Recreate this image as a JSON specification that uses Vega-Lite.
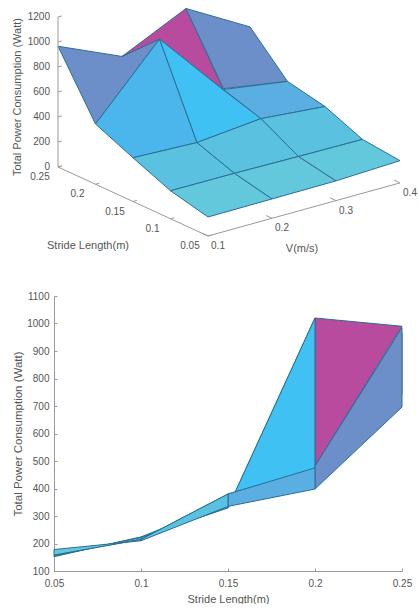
{
"$schema":"https://vega.github.io/schema/vega-lite/v6.json",
"padding":{"left":11,"top":0,"right":0,"bottom":0},
"autosize":{"type":"pad"},
"spacing":36,
"config":{"view":{"stroke":null},"font":"Liberation Sans","text":{"color":"#555555","font":"Liberation Sans"}},
"datasets":{
"cells":[
{"cell":"a","shade":"slate","k":0,"stride":0.2,"v":0.1,"power":482},{"cell":"a","shade":"slate","k":1,"stride":0.25,"v":0.1,"power":966},{"cell":"a","shade":"slate","k":2,"stride":0.25,"v":0.2,"power":743},{"cell":"a","shade":"slate","k":3,"stride":0.2,"v":0.2,"power":1020},{"cell":"a","shade":"slate","k":4,"stride":0.2,"v":0.1,"power":482},
{"cell":"b","shade":"azure","k":0,"stride":0.15,"v":0.1,"power":350},{"cell":"b","shade":"azure","k":1,"stride":0.2,"v":0.1,"power":482},{"cell":"b","shade":"azure","k":2,"stride":0.2,"v":0.2,"power":1020},{"cell":"b","shade":"azure","k":3,"stride":0.15,"v":0.2,"power":330},{"cell":"b","shade":"azure","k":4,"stride":0.15,"v":0.1,"power":350},
{"cell":"c","shade":"aqua","k":0,"stride":0.1,"v":0.1,"power":224},{"cell":"c","shade":"aqua","k":1,"stride":0.15,"v":0.1,"power":350},{"cell":"c","shade":"aqua","k":2,"stride":0.15,"v":0.2,"power":330},{"cell":"c","shade":"aqua","k":3,"stride":0.1,"v":0.2,"power":222},{"cell":"c","shade":"aqua","k":4,"stride":0.1,"v":0.1,"power":224},
{"cell":"d","shade":"teal","k":0,"stride":0.05,"v":0.1,"power":152},{"cell":"d","shade":"teal","k":1,"stride":0.1,"v":0.1,"power":224},{"cell":"d","shade":"teal","k":2,"stride":0.1,"v":0.2,"power":222},{"cell":"d","shade":"teal","k":3,"stride":0.05,"v":0.2,"power":155},{"cell":"d","shade":"teal","k":4,"stride":0.05,"v":0.1,"power":152},
{"cell":"e","view":"3d","shade":"magenta","k":0,"stride":0.2,"v":0.2,"power":1020},{"cell":"e","view":"3d","shade":"magenta","k":1,"stride":0.25,"v":0.2,"power":743},{"cell":"e","view":"3d","shade":"magenta","k":2,"stride":0.25,"v":0.3,"power":985},{"cell":"e","view":"3d","shade":"magenta","k":3,"stride":0.2,"v":0.3,"power":470},{"cell":"e","view":"3d","shade":"magenta","k":4,"stride":0.2,"v":0.2,"power":1020},
{"cell":"m","view":"2d","shade":"magenta","k":0,"stride":0.2,"v":0.2,"power":1020},{"cell":"m","view":"2d","shade":"magenta","k":1,"stride":0.25,"v":0.2,"power":990},{"cell":"m","view":"2d","shade":"magenta","k":2,"stride":0.25,"v":0.3,"power":990},{"cell":"m","view":"2d","shade":"magenta","k":3,"stride":0.2,"v":0.3,"power":482},{"cell":"m","view":"2d","shade":"magenta","k":4,"stride":0.2,"v":0.2,"power":1020},
{"cell":"f","shade":"sky","k":0,"stride":0.15,"v":0.2,"power":330},{"cell":"f","shade":"sky","k":1,"stride":0.2,"v":0.2,"power":1020},{"cell":"f","shade":"sky","k":2,"stride":0.2,"v":0.3,"power":470},{"cell":"f","shade":"sky","k":3,"stride":0.15,"v":0.3,"power":380},{"cell":"f","shade":"sky","k":4,"stride":0.15,"v":0.2,"power":330},
{"cell":"g","shade":"aqua","k":0,"stride":0.1,"v":0.2,"power":222},{"cell":"g","shade":"aqua","k":1,"stride":0.15,"v":0.2,"power":330},{"cell":"g","shade":"aqua","k":2,"stride":0.15,"v":0.3,"power":380},{"cell":"g","shade":"aqua","k":3,"stride":0.1,"v":0.3,"power":215},{"cell":"g","shade":"aqua","k":4,"stride":0.1,"v":0.2,"power":222},
{"cell":"h","shade":"teal","k":0,"stride":0.05,"v":0.2,"power":155},{"cell":"h","shade":"teal","k":1,"stride":0.1,"v":0.2,"power":222},{"cell":"h","shade":"teal","k":2,"stride":0.1,"v":0.3,"power":215},{"cell":"h","shade":"teal","k":3,"stride":0.05,"v":0.3,"power":158},{"cell":"h","shade":"teal","k":4,"stride":0.05,"v":0.2,"power":155},
{"cell":"i","shade":"slate","k":0,"stride":0.2,"v":0.3,"power":482},{"cell":"i","shade":"slate","k":1,"stride":0.25,"v":0.3,"power":985},{"cell":"i","shade":"slate","k":2,"stride":0.25,"v":0.4,"power":696},{"cell":"i","shade":"slate","k":3,"stride":0.2,"v":0.4,"power":398},{"cell":"i","shade":"slate","k":4,"stride":0.2,"v":0.3,"power":482},
{"cell":"j","shade":"steel","k":0,"stride":0.15,"v":0.3,"power":380},{"cell":"j","shade":"steel","k":1,"stride":0.2,"v":0.3,"power":475},{"cell":"j","shade":"steel","k":2,"stride":0.2,"v":0.4,"power":398},{"cell":"j","shade":"steel","k":3,"stride":0.15,"v":0.4,"power":335},{"cell":"j","shade":"steel","k":4,"stride":0.15,"v":0.3,"power":380},
{"cell":"k","shade":"aqua","k":0,"stride":0.1,"v":0.3,"power":215},{"cell":"k","shade":"aqua","k":1,"stride":0.15,"v":0.3,"power":380},{"cell":"k","shade":"aqua","k":2,"stride":0.15,"v":0.4,"power":335},{"cell":"k","shade":"aqua","k":3,"stride":0.1,"v":0.4,"power":210},{"cell":"k","shade":"aqua","k":4,"stride":0.1,"v":0.3,"power":215},
{"cell":"l","shade":"teal","k":0,"stride":0.05,"v":0.3,"power":158},{"cell":"l","shade":"teal","k":1,"stride":0.1,"v":0.3,"power":215},{"cell":"l","shade":"teal","k":2,"stride":0.1,"v":0.4,"power":210},{"cell":"l","shade":"teal","k":3,"stride":0.05,"v":0.4,"power":178},{"cell":"l","shade":"teal","k":4,"stride":0.05,"v":0.3,"power":158}
],
"frame":[
{"line":"z","k":0,"stride":0.25,"v":0.1,"power":1200},{"line":"z","k":1,"stride":0.25,"v":0.1,"power":0},{"line":"z","k":2,"stride":0.05,"v":0.1,"power":0},{"line":"z","k":3,"stride":0.05,"v":0.4,"power":0}
],
"ticks":[
{"axis":"z","label":"0","stride":0.25,"v":0.1,"power":0},{"axis":"z","label":"200","stride":0.25,"v":0.1,"power":200},{"axis":"z","label":"400","stride":0.25,"v":0.1,"power":400},{"axis":"z","label":"600","stride":0.25,"v":0.1,"power":600},{"axis":"z","label":"800","stride":0.25,"v":0.1,"power":800},{"axis":"z","label":"1000","stride":0.25,"v":0.1,"power":1000},{"axis":"z","label":"1200","stride":0.25,"v":0.1,"power":1200},
{"axis":"s","label":"0.25","stride":0.25,"v":0.1,"power":0},{"axis":"s","label":"0.2","stride":0.2,"v":0.1,"power":0},{"axis":"s","label":"0.15","stride":0.15,"v":0.1,"power":0},{"axis":"s","label":"0.1","stride":0.1,"v":0.1,"power":0},{"axis":"s","label":"0.05","stride":0.05,"v":0.1,"power":0},
{"axis":"v","label":"0.1","stride":0.05,"v":0.1,"power":0},{"axis":"v","label":"0.2","stride":0.05,"v":0.2,"power":0},{"axis":"v","label":"0.3","stride":0.05,"v":0.3,"power":0},{"axis":"v","label":"0.4","stride":0.05,"v":0.4,"power":0}
]
},
"vconcat":[
{
"width":364,"height":255,
"layer":[
{"data":{"name":"cells"},
 "transform":[{"filter":"datum.view!='2d'"},{"calculate":"208+(datum.v-0.1)*640-(datum.stride-0.05)*750","as":"px"},{"calculate":"236-(datum.v-0.1)*177-(datum.stride-0.05)*345-datum.power*0.125","as":"py"}],
 "mark":{"type":"line","strokeWidth":1,"stroke":"#2a6f93","strokeJoin":"round"},
 "encoding":{
  "x":{"field":"px","type":"quantitative","scale":{"domain":[54,418],"nice":false,"zero":false},"axis":null},
  "y":{"field":"py","type":"quantitative","scale":{"domain":[255,0],"nice":false,"zero":false},"axis":null},
  "order":{"field":"k","type":"quantitative"},
  "detail":{"field":"cell"},
  "fill":{"field":"shade","type":"nominal","legend":null,"scale":{"domain":["slate","magenta","azure","sky","steel","aqua","teal"],"range":["#6c8fca","#b84b9d","#4bb6ec","#3fc1f3","#5aaee2","#5bc1e0","#63c8dc"]}}
 }},
{"data":{"name":"frame"},
 "transform":[{"calculate":"208+(datum.v-0.1)*640-(datum.stride-0.05)*750","as":"px"},{"calculate":"236-(datum.v-0.1)*177-(datum.stride-0.05)*345-datum.power*0.125","as":"py"}],
 "mark":{"type":"line","stroke":"#9a9a9a","strokeWidth":1},
 "encoding":{"x":{"field":"px","type":"quantitative"},"y":{"field":"py","type":"quantitative"},"order":{"field":"k","type":"quantitative"}}},
{"data":{"name":"ticks"},
 "transform":[
  {"calculate":"datum.axis=='v'?0:0.006","as":"dv"},{"calculate":"datum.axis=='v'?0.008:0","as":"ds"},
  {"calculate":"208+(datum.v-0.1)*640-(datum.stride-0.05)*750","as":"px"},{"calculate":"236-(datum.v-0.1)*177-(datum.stride-0.05)*345-datum.power*0.125","as":"py"},
  {"calculate":"datum.px+datum.dv*640-datum.ds*750","as":"px2"},{"calculate":"datum.py-datum.dv*177-datum.ds*345","as":"py2"}],
 "mark":{"type":"rule","stroke":"#9a9a9a","strokeWidth":1},
 "encoding":{"x":{"field":"px","type":"quantitative"},"y":{"field":"py","type":"quantitative"},"x2":{"field":"px2"},"y2":{"field":"py2"}}},
{"data":{"name":"ticks"},
 "transform":[{"filter":"datum.axis=='z'"},{"calculate":"208+(datum.v-0.1)*640-(datum.stride-0.05)*750","as":"px"},{"calculate":"236-(datum.v-0.1)*177-(datum.stride-0.05)*345-datum.power*0.125","as":"py"}],
 "mark":{"type":"text","fontSize":10,"align":"right","dx":-8,"baseline":"middle"},
 "encoding":{"x":{"field":"px","type":"quantitative"},"y":{"field":"py","type":"quantitative"},"text":{"field":"label"}}},
{"data":{"name":"ticks"},
 "transform":[{"filter":"datum.axis=='s'"},{"calculate":"208+(datum.v-0.1)*640-(datum.stride-0.05)*750","as":"px"},{"calculate":"236-(datum.v-0.1)*177-(datum.stride-0.05)*345-datum.power*0.125","as":"py"}],
 "mark":{"type":"text","fontSize":10,"align":"center","dx":-18,"dy":10,"baseline":"middle"},
 "encoding":{"x":{"field":"px","type":"quantitative"},"y":{"field":"py","type":"quantitative"},"text":{"field":"label"}}},
{"data":{"name":"ticks"},
 "transform":[{"filter":"datum.axis=='v'"},{"calculate":"208+(datum.v-0.1)*640-(datum.stride-0.05)*750","as":"px"},{"calculate":"236-(datum.v-0.1)*177-(datum.stride-0.05)*345-datum.power*0.125","as":"py"}],
 "mark":{"type":"text","fontSize":10,"align":"center","dx":10,"dy":10,"baseline":"middle"},
 "encoding":{"x":{"field":"px","type":"quantitative"},"y":{"field":"py","type":"quantitative"},"text":{"field":"label"}}},
{"data":{"values":[{"label":"Stride Length(m)","stride":0.15,"v":0.1,"power":0}]},
 "transform":[{"calculate":"208+(datum.v-0.1)*640-(datum.stride-0.05)*750","as":"px"},{"calculate":"236-(datum.v-0.1)*177-(datum.stride-0.05)*345-datum.power*0.125","as":"py"}],
 "mark":{"type":"text","fontSize":11,"align":"center","dx":-45,"dy":44,"baseline":"middle"},
 "encoding":{"x":{"field":"px","type":"quantitative"},"y":{"field":"py","type":"quantitative"},"text":{"field":"label"}}},
{"data":{"values":[{"label":"V(m/s)","stride":0.05,"v":0.25,"power":0}]},
 "transform":[{"calculate":"208+(datum.v-0.1)*640-(datum.stride-0.05)*750","as":"px"},{"calculate":"236-(datum.v-0.1)*177-(datum.stride-0.05)*345-datum.power*0.125","as":"py"}],
 "mark":{"type":"text","fontSize":11,"align":"center","dx":-2,"dy":40,"baseline":"middle"},
 "encoding":{"x":{"field":"px","type":"quantitative"},"y":{"field":"py","type":"quantitative"},"text":{"field":"label"}}},
{"data":{"values":[{"label":"Total Power Consumption (Watt)","stride":0.25,"v":0.1,"power":600}]},
 "transform":[{"calculate":"208+(datum.v-0.1)*640-(datum.stride-0.05)*750","as":"px"},{"calculate":"236-(datum.v-0.1)*177-(datum.stride-0.05)*345-datum.power*0.125","as":"py"}],
 "mark":{"type":"text","fontSize":11,"align":"center","dx":-5,"dy":-40,"angle":270,"baseline":"middle"},
 "encoding":{"x":{"field":"px","type":"quantitative"},"y":{"field":"py","type":"quantitative"},"text":{"field":"label"}}}
]
},
{
"width":348,"height":275,
"data":{"name":"cells"},
"transform":[{"filter":"datum.view!='3d'"}],
"mark":{"type":"line","strokeWidth":1,"stroke":"#2a6f93","strokeJoin":"round"},
"encoding":{
 "x":{"field":"stride","type":"quantitative","scale":{"domain":[0.05,0.25],"nice":false},
  "axis":{"values":[0.05,0.1,0.15,0.2,0.25],"format":"~g","title":"Stride Length(m)","titleFont":"Liberation Sans","titleFontWeight":"normal","titleFontSize":11,"titleColor":"#555555","labelFontSize":10,"labelColor":"#555555","labelFlush":false,"domainColor":"#9a9a9a","tickColor":"#9a9a9a","tickSize":-3,"labelPadding":10,"grid":false,"titlePadding":5}},
 "y":{"field":"power","type":"quantitative","scale":{"domain":[100,1100],"nice":false},
  "axis":{"values":[100,200,300,400,500,600,700,800,900,1000,1100],"format":"d","title":"Total Power Consumption (Watt)","titleFont":"Liberation Sans","titleFontWeight":"normal","titleFontSize":11.5,"titleColor":"#555555","labelFontSize":10,"labelColor":"#555555","domainColor":"#9a9a9a","tickColor":"#9a9a9a","tickSize":-3,"labelPadding":8,"grid":false,"titlePadding":3}},
 "order":{"field":"k","type":"quantitative"},
 "detail":{"field":"cell"},
 "fill":{"field":"shade","type":"nominal","legend":null,"scale":{"domain":["slate","magenta","azure","sky","steel","aqua","teal"],"range":["#6c8fca","#b84b9d","#4bb6ec","#3fc1f3","#5aaee2","#5bc1e0","#63c8dc"]}}
}
}
]
}
